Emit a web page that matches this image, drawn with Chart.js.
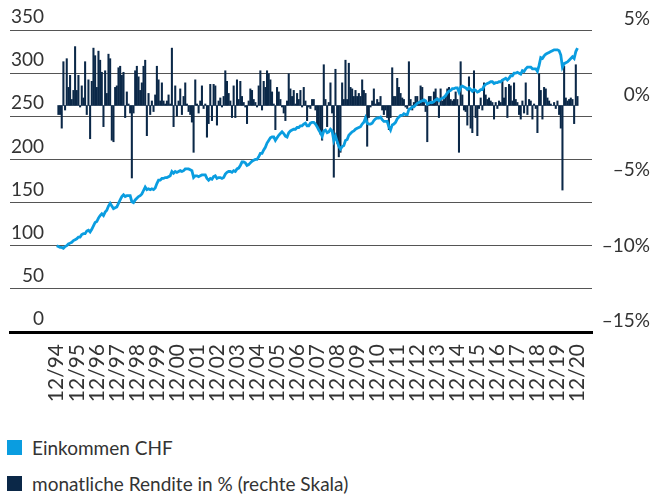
<!DOCTYPE html>
<html>
<head>
<meta charset="utf-8">
<script src="https://cdn.jsdelivr.net/npm/chart.js@4.4.1/dist/chart.umd.min.js"></script>
<style>
  html, body { margin: 0; padding: 0; background: #fff; }
  #wrap { position: relative; width: 650px; height: 494px; font-family: Lato, sans-serif; color: #333; }
  #chart { position: absolute; left: 0; top: 0; }
  #legend { position: absolute; left: 0; top: 429px; }
  .item { display: flex; align-items: center; height: 36px; font-size: 19px; }
  .swatch { width: 15px; height: 15px; margin: 0 10px 0 7px; }
</style>
</head>
<body>
<div id="wrap">
  <canvas id="chart" width="650" height="420"></canvas>
  <div id="legend"></div>
</div>
<script>
// x-axis: one label every 12 months, month 0 = 12/94
const tickMonths = [0, 12, 24, 36, 48, 60, 72, 84, 96, 108, 120, 132, 144, 156, 168, 180, 192, 204, 216, 228, 240, 252, 264, 276, 288, 300, 312];
const tickLabels = ["12/94", "12/95", "12/96", "12/97", "12/98", "12/99", "12/00", "12/01", "12/02", "12/03", "12/04", "12/05", "12/06", "12/07", "12/08", "12/09", "12/10", "12/11", "12/12", "12/13", "12/14", "12/15", "12/16", "12/17", "12/18", "12/19", "12/20"];
const rightTicks = [-15, -10, -5, 0, 5];
const rightTickLabels = ["–15%", "–10%", "–5%", "0%", "5%"];

const seriesNames = ["Einkommen CHF", "monatliche Rendite in % (rechte Skala)"];
const seriesColors = ["#0a9de0", "#0b2848"];

// Einkommen CHF, monthly from 12/94
const incomeValues = [
  100, 99, 98, 98, 97, 99, 100, 102, 103, 104, 106, 107, 108,
  110, 110, 113, 114, 114, 117, 118, 116, 119, 123, 127, 128,
  132, 135, 137, 135, 139, 141, 146, 149, 146, 143, 144, 145,
  149, 153, 157, 159, 157, 158, 158, 158, 151, 150, 153, 155, 157,
  158, 160, 164, 168, 165, 166, 165, 166, 165, 167, 172, 176,
  176, 178, 178, 179, 179, 180, 181, 186, 184, 186, 185, 186,
  187, 186, 187, 189, 189, 189, 188, 187, 179, 181, 181, 180, 181,
  182, 182, 182, 178, 176, 178, 177, 180, 181, 178, 179, 179, 178,
  179, 183, 185, 186, 186, 185, 187, 186, 189, 190, 193, 197, 197,
  196, 193, 194, 196, 198, 199, 200, 200, 203, 207, 207, 211, 214,
  219, 222, 225, 226, 226, 222, 225, 228, 230, 232, 230, 227, 226,
  231, 233, 234, 235, 235, 237, 237, 239, 239, 241, 242, 239, 239,
  242, 243, 243, 241, 238, 234, 231, 227, 233, 234, 231, 232, 235, 233,
  222, 227, 221, 215, 212, 215, 216, 222, 223, 228, 230, 232, 233,
  235, 236, 237, 238, 241, 243, 248, 242, 241, 241, 242, 245, 247,
  248, 248, 249, 246, 244, 244, 244, 238, 234, 240, 241, 243, 247,
  249, 251, 251, 253, 252, 252, 258, 259, 261, 261, 263, 265, 266,
  267, 268, 269, 268, 264, 265, 266, 266, 267, 269, 270, 268, 270,
  271, 272, 274, 277, 279, 280, 282, 282, 283, 283, 278, 284, 285,
  284, 283, 281, 283, 281, 279, 281, 280, 278, 279, 281, 281, 285,
  287, 288, 289, 290, 290, 288, 289, 289, 290, 290, 292, 293, 294,
  292, 294, 297, 297, 300, 300, 301, 300, 299, 303, 302, 305, 307,
  307, 307, 305, 305, 305, 302, 309, 318, 317, 320, 322, 323, 324,
  325, 326, 327, 327, 327, 326, 321, 307, 311, 312, 313, 315, 317, 319, 317, 325, 329
];

// monatliche Rendite in %, same months
const returnValues = [
  null, -0.6, -0.6, -1.5, 2.9, -0.3, 3.1, 1.2, 2.0, 0.4, 1.0, 3.9, 1.0,
  2.0, -0.1, 1.3, 0.5, 2.9, -0.6, 1.7, -2.2, 1.6, 3.8, 3.3, 1.2,
  3.6, 3.0, 2.2, -1.4, 2.3, 0.8, 3.4, 3.1, -2.3, -2.4, 1.2, 1.3,
  2.5, 2.6, 2.0, 2.2, -0.8, 0.9, 0.1, -0.5, -4.8, -0.5, 2.3, 2.6,
  1.9, 1.0, 1.5, 2.6, 3.0, -2.0, 0.8, -0.6, 0.3, -0.4, 0.7, 2.6,
  1.7, 0.3, 1.5, 0.3, 0.1, 0.3, 0.7, 0.1, 3.8, -1.4, 1.3, -0.7,
  0.3, 1.1, -0.6, 0.6, 1.5, 0.1, -0.4, -0.6, -1.1, -3.1, 1.7, 0.1,
  -0.5, 0.3, 1.3, -0.2, 0.1, -2.1, -1.2, 1.4, -1.0, 1.4, 1.3, -1.3,
  0.3, 0.5, -0.1, 0.6, 2.3, 1.6, 0.8, 0.3, -0.8, 1.3, -0.8, 1.7,
  0.4, 1.6, 0.6, 0.2, -0.1, -1.2, 0.3, 1.1, 1.0, 0.4, 0.2, -0.1,
  1.3, 2.3, -0.3, 1.6, 1.2, 2.3, 2.1, 1.7, 0.9, 0.1, -1.6, 1.2,
  0.9, 0.4, -0.1, -0.5, -1.0, 0.3, 2.1, 1.1, 0.6, 1.0, 0.1, 0.8,
  0.4, 1.0, -0.1, 1.2, 0.3, -1.0, -0.1, -0.2, 0.4, 0.4, -0.3, -1.4,
  -1.6, -1.9, -2.3, 2.7, 0.4, -1.4, 0.2, 1.5, -0.5, -4.75, 2.4, -2.5,
  -3.4, -3.1, 1.5, 0.4, 3.0, 0.4, 2.8, 1.2, 1.1, 0.6, 1.0, 0.6,
  0.8, 0.6, 1.7, 1.0, 0.8, -2.7, -0.8, -0.1, 0.3, 1.1, 0.1, 0.4,
  0.2, 0.6, -0.3, -0.6, -0.3, -0.8, -1.6, -0.8, 2.5, 0.6, 0.6, 1.8,
  1.2, 0.8, 0.5, 0.4, -0.1, -0.2, 2.9, 0.4, -0.3, 0.2, 0.6, 0.6,
  0.1, 1.3, 1.2, 0.2, -0.4, -2.4, 0.6, 0.6, 0.2, 0.9, 1.1, 0.5,
  -0.8, 1.1, 0.3, 0.4, 0.6, 1.1, 1.2, 0.4, 0.3, 0.4, 0.9, 0.4,
  -3.1, 2.9, 0.7, -0.3, -0.4, -1.3, 1.9, -1.5, -1.8, 2.3, -0.8, -2.0,
  -0.2, 0.5, -0.3, 1.5, 0.7, 0.4, 0.5, 0.3, 0.2, -0.9, 0.2, -0.2,
  0.3, 0.2, 1.7, 0.5, 1.2, -0.8, 1.4, 1.3, 0.3, 1.5, 0.4, 0.2,
  -0.6, -0.9, 0.3, -0.5, 1.5, -0.6, 0.4, 0.3, -0.9, 0.1, -0.2, -1.8,
  2.1, 1.0, -0.9, 1.2, 1.1, 0.5, 0.3, 0.1, 0.0, 0.2, -0.2, 0.3,
  -0.6, -1.5, -5.6, 2.6, 0.5, 0.3, 0.4, 0.5, 0.4, -1.2, 2.7, 0.6
];

const textColor = "#333";
const font = { family: "Lato, sans-serif", size: 19 };

const ctx = document.getElementById("chart").getContext("2d");
const chart = new Chart(ctx, {
  type: "bar",
  data: {
    datasets: [
      {
        type: "line",
        label: seriesNames[0],
        data: incomeValues.map((v, i) => ({ x: i, y: v })),
        yAxisID: "y",
        borderColor: seriesColors[0],
        borderWidth: 2.8,
        pointRadius: 0,
        tension: 0,
        order: 0
      },
      {
        type: "bar",
        label: seriesNames[1],
        data: returnValues.map((v, i) => ({ x: i, y: v })),
        yAxisID: "y2",
        backgroundColor: seriesColors[1],
        barThickness: 1.4,
        order: 1
      }
    ]
  },
  options: {
    responsive: false,
    animation: false,
    layout: { padding: { left: 8, right: 0, top: 30, bottom: 0 } },
    plugins: { legend: { display: false }, tooltip: { enabled: false } },
    scales: {
      x: {
        type: "linear",
        offset: false,
        min: -28,
        max: 320.7,
        grid: { display: false, drawTicks: false },
        border: { display: true, color: "#000", width: 3 },
        afterBuildTicks: axis => { axis.ticks = tickMonths.map(v => ({ value: v })); },
        afterFit: s => { s.height = 88; s.paddingLeft = 0; s.paddingRight = 0; },
        ticks: {
          autoSkip: false,
          minRotation: 90,
          maxRotation: 90,
          padding: 12,
          color: textColor,
          font: { family: "Lato, sans-serif", size: 21 },
          callback: v => tickLabels[tickMonths.indexOf(v)] || ""
        }
      },
      y: {
        position: "left",
        min: 0,
        max: 350,
        grid: { color: "#555", lineWidth: 1, drawTicks: false },
        border: { display: false },
        afterFit: s => { s.paddingTop = 0; s.paddingBottom = 0; },
        ticks: {
          stepSize: 50,
          mirror: true,
          crossAlign: "far",
          padding: 1,
          labelOffset: -13,
          color: textColor,
          font: font
        }
      },
      y2: {
        position: "right",
        min: -15,
        max: 5,
        grid: { display: false, drawTicks: false },
        border: { display: false },
        afterBuildTicks: axis => { axis.ticks = rightTicks.map(v => ({ value: v })); },
        afterFit: s => { s.width = 58; s.paddingTop = 0; s.paddingBottom = 0; },
        ticks: {
          crossAlign: "far",
          padding: 12,
          labelOffset: -11,
          color: textColor,
          font: font,
          callback: v => rightTickLabels[rightTicks.indexOf(v)]
        }
      }
    }
  }
});

// legend below the chart
const legend = document.getElementById("legend");
seriesNames.forEach((name, i) => {
  const row = document.createElement("div");
  row.className = "item";
  row.innerHTML = `<span class="swatch" style="background:${seriesColors[i]}"></span><span>${name}</span>`;
  legend.appendChild(row);
});
</script>
</body>
</html>
